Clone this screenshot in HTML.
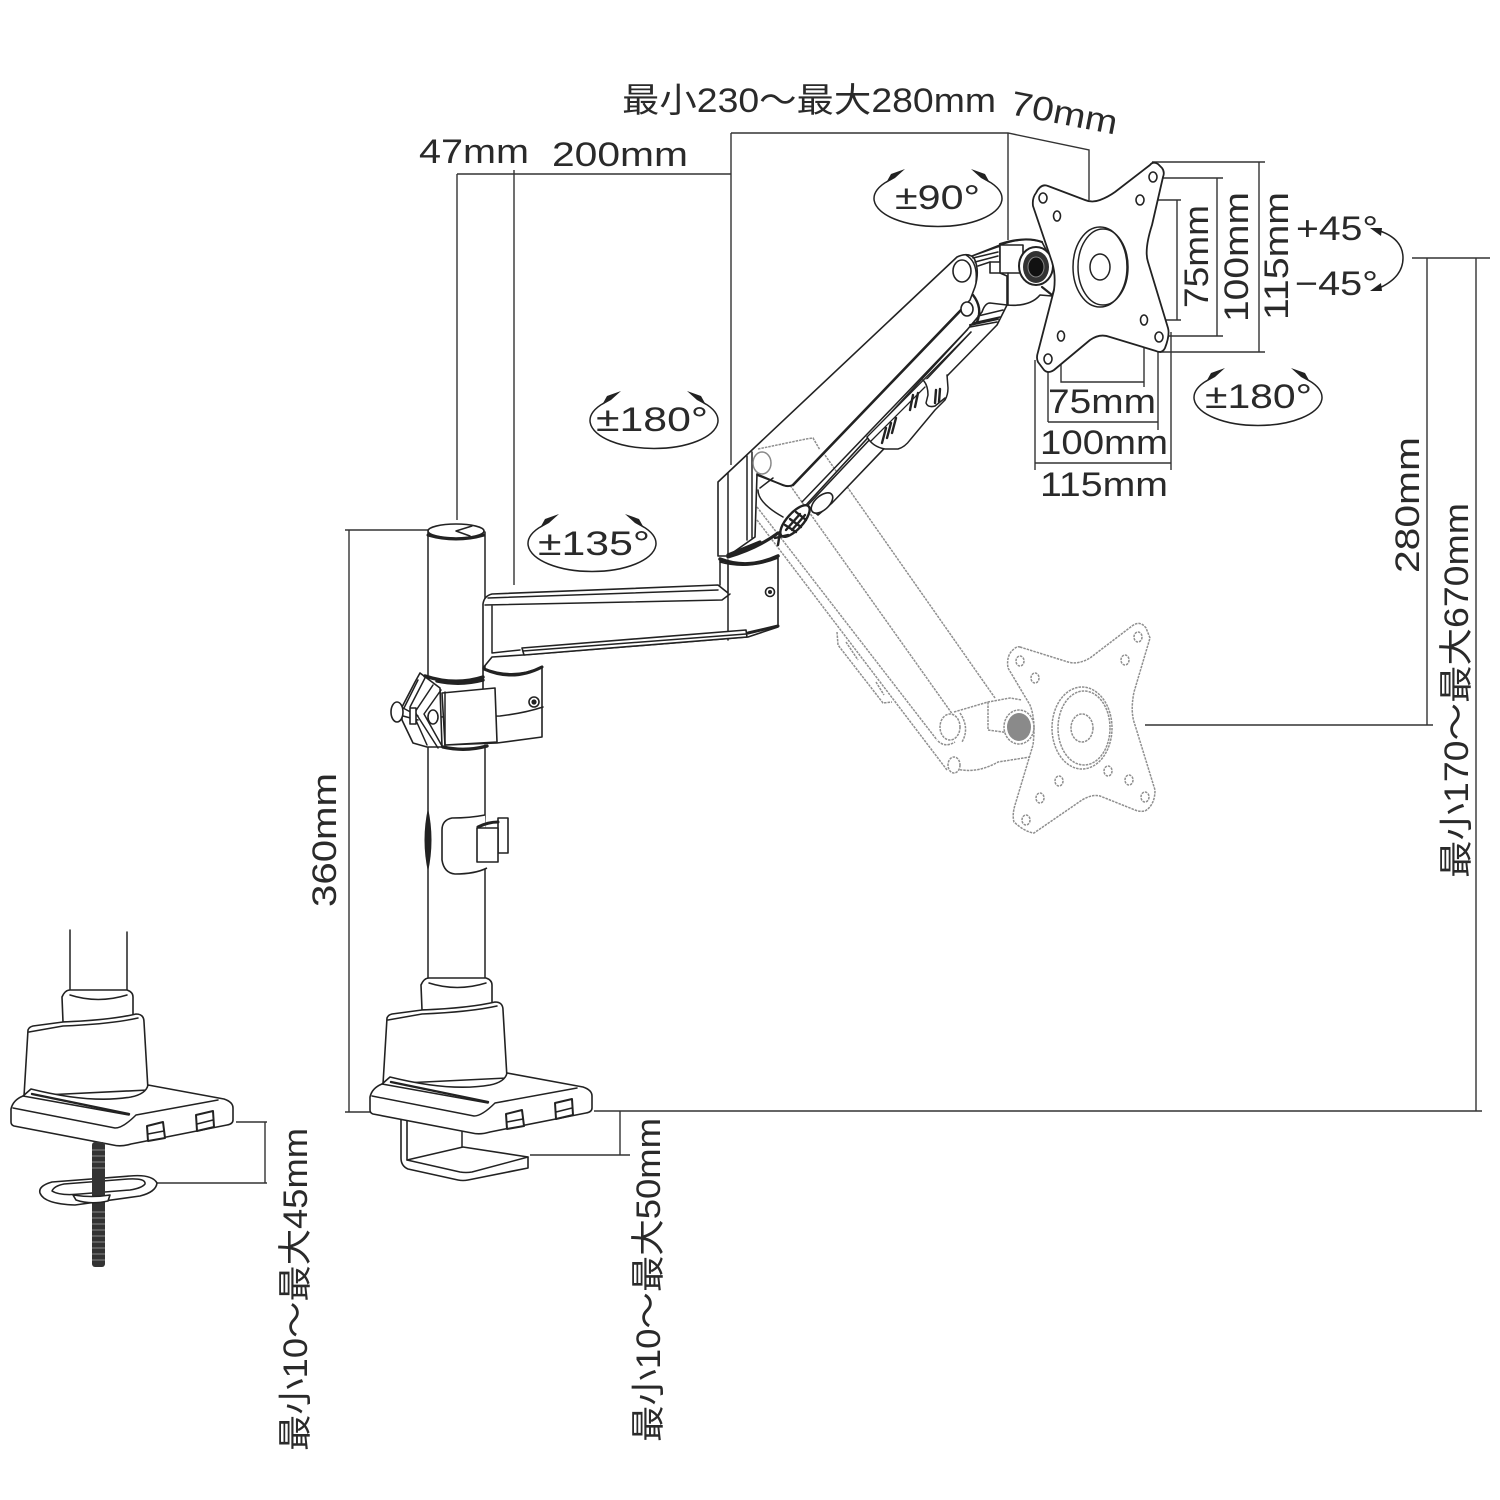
<!DOCTYPE html>
<html><head><meta charset="utf-8"><style>
html,body{margin:0;padding:0;background:#fff}
svg{display:block}
text{font-family:"Liberation Sans","Noto Sans CJK JP",sans-serif;fill:#2a2a2a;font-size:34px}
.l{fill:none;stroke:#222;stroke-width:1.5;stroke-linejoin:round;stroke-linecap:round}
.w{fill:#fff;stroke:#222;stroke-width:1.6;stroke-linejoin:round}
.t{fill:none;stroke:#222;stroke-width:3;stroke-linecap:round;stroke-linejoin:round}
.d{fill:none;stroke:#333;stroke-width:1.4}
.g{fill:none;stroke:#8f8f8f;stroke-width:1.5;stroke-dasharray:2.5 1}
.gw{fill:#fff;stroke:#8f8f8f;stroke-width:1.5;stroke-dasharray:2.5 1}
</style></head><body>
<svg width="1500" height="1500" viewBox="0 0 1500 1500" xmlns="http://www.w3.org/2000/svg">
<rect width="1500" height="1500" fill="#fff"/>
<defs>
<g id="rot">
<path class="l" d="M-50,-17 A64 28 0 1 0 50,-17"/>
<path fill="#222" d="M-52,-15 L-47,-24 L-33,-29 L-43,-20Z M52,-15 L47,-24 L33,-29 L43,-20Z"/>
</g>
<g id="base">
<path class="w" d="M422,1010 L421,985 Q424,978 429,978 L486,978 Q492,980 492,985 L492,1008 Z"/>
<path class="l" d="M429,983 Q457,992 486,983"/>
<path class="w" d="M387,1018 Q388,1015 392,1014 L422,1010 Q470,1008 495,1002 Q503,1002 503,1010 L507,1078 L383,1084 Z"/>
<path class="l" d="M388,1020 L422,1014 Q470,1012 497,1006"/>
<path class="w" d="M507,1073 L583,1087 Q592,1090 592,1096 L592,1108 Q592,1112 586,1113 L490,1132 Q480,1135 472,1133 L373,1114 Q370,1113 370,1110 L370,1097 Q372,1088 382,1084 L390,1077 Q450,1092 490,1085 Q505,1082 507,1073Z"/>
<path class="l" d="M372,1096 L474,1116 Q482,1116 495,1103 L577,1088 M382,1084 L488,1103"/>
<path class="t" d="M391,1082 L488,1102" style="stroke-width:2.4"/>
<path class="w" d="M506,1114 L522,1110 L524,1126 L507,1129Z M555,1103 L572,1099 L573,1115 L556,1119Z" style="stroke-width:2"/>
<path class="l" d="M507,1122 L523,1119 M556,1112 L572,1108"/>
</g>
</defs>

<!-- Ghost arm -->
<g>
<path class="g" d="M813,438 L995,698 M770,457 L953,715 M757,507 L937,740 M757,520 L947,770"/>
<path class="g" d="M837,632 L838,645 L883,703 L892,702 M846,642 L858,660 M876,682 L884,695"/>
<path class="g" d="M954,712 L988,702 L1010,698 L1022,700 M953,768 Q975,775 998,762 L1030,757 M988,702 L988,730 L1010,733 M960,713 Q970,728 962,742 M938,741 Q945,748 955,742"/>
<ellipse class="gw" cx="950" cy="727" rx="10" ry="13"/>
<ellipse class="gw" cx="954" cy="765" rx="6" ry="8"/>
<ellipse class="gw" cx="1019" cy="727" rx="15" ry="17"/>
<ellipse cx="1019" cy="727" rx="12" ry="14" fill="#8a8a8a"/>
<path class="g" d="M1020,647 L1068,662 Q1078,665 1090,658 L1132,626 Q1140,620 1146,628 L1150,638 L1134,692 Q1130,712 1135,725 L1155,790 Q1155,805 1145,811 Q1140,812 1135,810 L1100,796 Q1092,794 1082,800 L1034,833 Q1025,832 1014,822 Q1012,815 1015,805 L1033,745 Q1036,720 1030,705 L1008,668 Q1006,655 1014,649 Q1017,646 1020,647Z"/>
<ellipse class="g" cx="1082" cy="728" rx="30" ry="41"/>
<ellipse class="g" cx="1084" cy="728" rx="26" ry="37"/>
<ellipse class="g" cx="1082" cy="728" rx="11" ry="14"/>
<ellipse class="g" cx="1020" cy="661" rx="4" ry="5"/><ellipse class="g" cx="1035" cy="678" rx="4" ry="5"/>
<ellipse class="g" cx="1138" cy="637" rx="4" ry="5"/><ellipse class="g" cx="1125" cy="660" rx="4" ry="5"/>
<ellipse class="g" cx="1108" cy="771" rx="4" ry="5"/><ellipse class="g" cx="1129" cy="780" rx="4" ry="5"/>
<ellipse class="g" cx="1145" cy="797" rx="4" ry="5"/><ellipse class="g" cx="1059" cy="781" rx="4" ry="5"/>
<ellipse class="g" cx="1040" cy="798" rx="4" ry="5"/><ellipse class="g" cx="1026" cy="820" rx="4" ry="5"/>
</g>

<!-- Dimension lines -->
<path class="d" d="M731,133 H1008 L1089,150 V200 M1008,133 V240 M731,133 V465 M457,174 H731 M457,174 V520 M514,170 V585"/>
<path class="d" d="M1152,162 H1265 M1259,162 V352 M1160,352 H1265 M1163,178 H1223 M1217,178 V336 M1160,336 H1223 M1145,200 H1181 M1177,200 V320 M1147,320 H1181"/>
<path class="d" d="M1035,360 V470 M1035,463 H1171 M1171,332 V470 M1048,365 V422 M1048,422 H1158 M1158,340 V430 M1061,340 V382 H1144 M1144,325 V387"/>
<path class="d" d="M1412,258 H1490 M1427,258 V725 M1145,725 H1433 M1476,258 V1111 M594,1111 H1482 M620,1111 V1155 M530,1155 H630"/>
<path class="d" d="M345,530 H428 M349,530 V1112 M345,1112 H370 M236,1122 H267 M265,1122 V1183 M157,1183 H267"/>

<!-- Pole -->
<path class="l" d="M428,532 V680 M485,532 V675 M428,745 V985 M485,745 V985"/>
<ellipse class="w" cx="456" cy="531" rx="28" ry="7"/>
<path class="t" d="M428,535 Q456,543 484,535"/>
<path class="l" d="M456,531 L472,526 M456,531 L470,536"/>
<path fill="#222" d="M428,808 Q421,840 428,872 Q435,840 428,808Z"/>

<!-- Cable clip -->
<path class="w" d="M485,815 Q470,818 452,818 Q442,820 442,830 V860 Q444,873 455,874 Q475,874 487,868"/>
<rect class="w" x="498" y="818" width="10" height="35"/>
<rect class="w" x="477" y="828" width="21" height="34"/>
<path class="t" d="M478,827 Q488,822 498,822"/>

<!-- Lower arm -->
<path class="w" d="M720,562 Q748,570 778,558 V627 L748,637 L523,655 L492,657 L483,668 V604 Q484,596 492,594 L718,585 L728,593 L728,560Z"/>
<path class="l" d="M485,605 L722,600 L730,594 M492,606 V653 L520,650 M720,560 V585 M728,593 V640 M488,598 L718,590"/>
<path class="w" d="M522,648 L746,630 L747,637 L524,655Z"/>
<path class="l" d="M523,651 L746,634"/>
<path class="t" d="M748,633 L778,626"/>
<circle cx="770" cy="592" r="4.5" class="w"/><circle cx="770" cy="592" r="2" fill="#222"/>
<path class="t" d="M720,559 Q748,570 778,556" style="stroke-width:3.5"/>

<!-- Pivot clamp -->
<path class="w" d="M483,668 Q513,680 542,667 V737 L497,743 L445,745 V693 L483,690Z"/>
<path class="t" d="M484,669 Q513,682 542,667"/>
<path class="l" d="M438,717 L500,716 Q525,713 543,707"/>
<circle cx="534" cy="702" r="5" class="w"/><circle cx="534" cy="702" r="2.6" fill="#222"/>
<path class="w" d="M442,693 L495,688 L497,742 L445,745Z"/>
<path class="l" d="M445,692 V745"/>
<path class="w" d="M420,673 L440,688 L442,747 L427,747 L413,743 L402,720 L402,707 L415,682Z"/>
<path class="l" d="M418,680 L404,708 M425,678 L410,707 L427,745 M433,685 L415,712 L438,748 M441,690 L424,714 L442,746"/>
<path class="t" d="M425,676 Q455,686 483,677 M437,681 Q460,686 483,680 M443,747 Q465,752 487,746" style="stroke-width:3.4"/>
<ellipse class="w" cx="397" cy="712" rx="6" ry="10"/>
<path class="l" d="M403,708 L418,716 M403,716 L418,720"/>
<rect x="410" y="708" width="6" height="16" class="w"/>
<ellipse class="w" cx="433" cy="717" rx="5" ry="7"/>

<!-- Upper arm -->
<path class="w" d="M718,482 L957,257 Q968,252 974,258 Q980,270 975,287 L970,300 L793,485 Q788,488 780,484 L757,474 L755,537 L728,556 L718,556Z"/>
<path class="l" d="M728,473 V555 M747,456 V540 M752,452 V538"/>
<path class="t" d="M793,485 L963,308" style="stroke-width:2.6"/>
<ellipse cx="762" cy="463" rx="9" ry="11" fill="#fff" stroke="#888" stroke-width="1.5"/>
<path class="g" d="M758,449 L806,439 L813,438 L820,450"/>
<path class="l" d="M758,490 Q758,503 783,517 M760,488 L773,478"/>
<path class="t" d="M757,475 L783,485 Q788,487 793,485" style="stroke-width:1.8"/>
<ellipse class="w" cx="962" cy="271" rx="9" ry="11"/>
<path class="l" d="M966,255 Q978,262 976,282"/>
<path class="w" d="M806,505 L967,330 L982,312 Q985,303 990,303 L1007,305 L997,325 L948,375 L900,432 L832,503 L818,515Z"/>
<path class="l" d="M802,502 L967,330 M808,505 L971,332 M970,327 L997,322 M973,323 L1000,317 M978,316 L1003,310"/>
<path class="t" d="M970,325 L998,319" style="stroke-width:2"/>
<ellipse class="w" cx="967" cy="309" rx="6" ry="7"/>
<path class="t" d="M973,295 Q983,308 977,322" style="stroke-width:2.4"/>
<path class="w" d="M867,437 Q873,447 885,449 L898,449 Q905,447 910,440 L935,410 L945,400 Q948,395 948,388 L947,375 L923,380 L871,432Z" style="stroke:none"/>
<path class="l" d="M867,437 Q873,447 885,449 L898,449 Q905,447 910,440 L935,410 L945,400 Q948,395 948,388 L947,375 M923,380 Q928,385 928,395 L926,403 Q928,408 935,406 L945,398"/>
<path class="l" d="M867,437 L971,332 M871,441 L925,387" style="stroke-width:1.3"/>
<path class="l" style="stroke-width:2.4" d="M882,443 L886,428 M887,438 L891,423 M892,433 L896,418 M910,410 L913,395 M915,407 L918,393 M935,403 L936,390 M939,402 L940,389"/>
<ellipse class="w" cx="822" cy="503" rx="13" ry="7" transform="rotate(-42 822 503)"/>
<path class="t" d="M728,557 Q758,548 778,533 M728,555 L760,542" style="stroke-width:3.2"/>
<ellipse class="w" cx="795" cy="521" rx="20" ry="8" transform="rotate(-48 795 521)" style="stroke-width:2.4"/>
<path class="l" style="stroke-width:2.4" d="M785,525 L796,532 M790,519 L801,527 M796,512 L806,520 M786,530 L800,514 M792,530 L805,515 M775,538 L788,535 M780,532 L778,545"/>
<!-- Head -->
<path class="w" d="M972,256 L1000,246 L1000,262 L990,262 V273 L1000,273 L1007,276 L1007,305 Q1030,307 1040,295 L1052,296 L1057,280 L1053,263 L1042,242 Q1025,236 1000,245 Z"/>
<path class="l" d="M973,258 L998,252 M975,262 L998,256 M978,266 L990,262"/>
<rect class="w" x="1000" y="245" width="23" height="28"/>
<ellipse cx="1036" cy="266" rx="17" ry="19" fill="#fff" stroke="#222" stroke-width="2"/>
<ellipse cx="1036" cy="267" rx="13" ry="16" fill="#333"/>
<ellipse cx="1036" cy="267" rx="8" ry="10" fill="#111" stroke="#888" stroke-width="1"/>
<path class="t" d="M1000,244 Q1025,236 1042,242 M1042,287 L1052,295" style="stroke-width:2.2"/>
<path class="l" d="M1008,273 V305"/>

<!-- VESA plate -->
<path class="w" d="M1036,193 Q1041,183 1048,186 L1085,200 Q1092,203 1100,200 Q1108,197 1115,192 L1150,165 Q1153,161 1158,164 L1162,168 Q1165,172 1163,177 L1152,225 Q1144,250 1148,262 L1168,328 Q1170,335 1165,348 Q1162,354 1156,351 L1110,337 Q1100,333 1090,340 L1054,370 Q1048,374 1044,370 L1038,362 Q1036,358 1038,352 L1054,290 Q1056,275 1052,262 L1033,206 Q1032,198 1036,193Z" style="stroke-width:1.8"/>
<ellipse class="l" cx="1100" cy="267" rx="27" ry="40"/>
<ellipse class="l" cx="1103" cy="267" rx="25" ry="38"/>
<ellipse class="l" cx="1100" cy="267" rx="10" ry="13"/>
<g fill="#fff" stroke="#222" stroke-width="1.6">
<ellipse cx="1153" cy="177" rx="4" ry="5"/><ellipse cx="1140" cy="200" rx="4" ry="5"/>
<ellipse cx="1144" cy="320" rx="3.5" ry="5"/><ellipse cx="1159" cy="337" rx="4" ry="5"/>
<ellipse cx="1061" cy="336" rx="3.5" ry="5"/><ellipse cx="1048" cy="359" rx="4" ry="5"/>
<ellipse cx="1043" cy="198" rx="4" ry="5"/><ellipse cx="1057" cy="216" rx="3.5" ry="5"/>
</g>

<!-- Clamp C & base -->
<path class="w" d="M401,1115 V1158 Q401,1166 408,1169 L458,1180 Q463,1181 468,1180 L528,1168 V1157 L463,1147 L407,1160 V1115"/>
<path class="l" d="M407,1160 L460,1172 Q466,1173 472,1172 L528,1157 M462,1130 V1147"/>
<use href="#base"/>

<!-- Left detail -->
<path class="l" d="M70,930 V992 M127,932 V992"/>
<g transform="translate(-359,12)"><use href="#base"/></g>
<rect x="92" y="1142" width="13" height="125" rx="3" fill="#333"/>
<path stroke="#888" stroke-width="1" d="M92,1150 H105 M92,1156 H105 M92,1162 H105 M92,1168 H105 M92,1212 H105 M92,1218 H105 M92,1224 H105 M92,1230 H105 M92,1236 H105 M92,1242 H105 M92,1248 H105 M92,1254 H105 M92,1260 H105"/>
<path class="w" d="M40,1193 Q38,1186 52,1182 L130,1176 Q152,1174 157,1183 Q156,1192 140,1196 L75,1205 Q44,1204 40,1193Z"/>
<path class="l" d="M52,1191 Q54,1186 64,1184 L128,1179 Q146,1178 145,1184 Q142,1188 130,1190 L80,1194 Q60,1196 52,1191Z"/>
<rect x="92" y="1176" width="13" height="21" fill="#333"/>
<path class="w" d="M73,1195 Q92,1198 110,1195 L108,1201 Q90,1205 76,1200Z"/>

<!-- Rotation marks -->
<use href="#rot" transform="translate(938,198)"/>
<use href="#rot" transform="translate(654,420)"/>
<use href="#rot" transform="translate(592,543)"/>
<use href="#rot" transform="translate(1258,397)"/>
<path class="l" d="M1377,230 Q1403,238 1403,258 Q1403,278 1377,289"/>
<path fill="#222" d="M1370,228 L1382,228 L1381,236Z M1370,291 L1382,291 L1381,283Z"/>

<!-- Labels -->
<text x="622" y="112" textLength="374" lengthAdjust="spacingAndGlyphs">最小230〜最大280mm</text>
<text transform="translate(1009,114) rotate(11)" textLength="108" lengthAdjust="spacingAndGlyphs">70mm</text>
<text x="419" y="163" textLength="110" lengthAdjust="spacingAndGlyphs">47mm</text>
<text x="552" y="166" textLength="136" lengthAdjust="spacingAndGlyphs">200mm</text>
<text x="895" y="209" textLength="85" lengthAdjust="spacingAndGlyphs">±90°</text>
<text x="596" y="431" textLength="112" lengthAdjust="spacingAndGlyphs">±180°</text>
<text x="538" y="555" textLength="112" lengthAdjust="spacingAndGlyphs">±135°</text>
<text x="1205" y="408" textLength="107" lengthAdjust="spacingAndGlyphs">±180°</text>
<text x="1296" y="240" textLength="82" lengthAdjust="spacingAndGlyphs">+45°</text>
<text x="1295" y="295" textLength="83" lengthAdjust="spacingAndGlyphs">−45°</text>
<text x="1048" y="413" textLength="108" lengthAdjust="spacingAndGlyphs">75mm</text>
<text x="1040" y="454" textLength="128" lengthAdjust="spacingAndGlyphs">100mm</text>
<text x="1040" y="496" textLength="128" lengthAdjust="spacingAndGlyphs">115mm</text>
<text transform="translate(1208,308) rotate(-90)" textLength="103" lengthAdjust="spacingAndGlyphs">75mm</text>
<text transform="translate(1248,322) rotate(-90)" textLength="130" lengthAdjust="spacingAndGlyphs">100mm</text>
<text transform="translate(1288,320) rotate(-90)" textLength="128" lengthAdjust="spacingAndGlyphs">115mm</text>
<text transform="translate(1419,573) rotate(-90)" textLength="136" lengthAdjust="spacingAndGlyphs">280mm</text>
<text transform="translate(1468,878) rotate(-90)" textLength="375" lengthAdjust="spacingAndGlyphs">最小170〜最大670mm</text>
<text transform="translate(336,907) rotate(-90)" textLength="134" lengthAdjust="spacingAndGlyphs">360mm</text>
<text transform="translate(307,1451) rotate(-90)" textLength="323" lengthAdjust="spacingAndGlyphs">最小10〜最大45mm</text>
<text transform="translate(660,1442) rotate(-90)" textLength="324" lengthAdjust="spacingAndGlyphs">最小10〜最大50mm</text>
</svg>
</body></html>
